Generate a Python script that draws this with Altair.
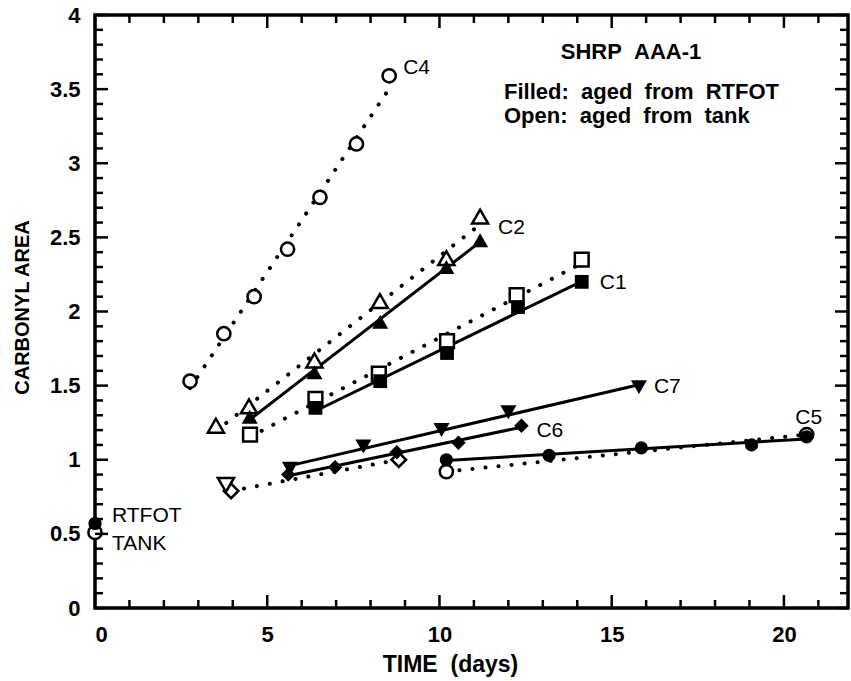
import altair as alt
import pandas as pd

# Carbonyl area vs. aging time for SHRP asphalt AAA-1, per aging condition C1..C7.
# "RTFOT" series start from RTFOT residue (filled), "tank" series from tank asphalt (open).
C1_RTFOT_T = [6.40, 8.28, 10.22, 12.28, 14.13]
C1_RTFOT_A = [1.35, 1.53, 1.72, 2.03, 2.20]
C1_TANK_T = [4.50, 6.40, 8.24, 10.22, 12.24, 14.13]
C1_TANK_A = [1.17, 1.41, 1.58, 1.80, 2.11, 2.35]

C2_RTFOT_T = [4.49, 6.37, 8.28, 10.20, 11.18]
C2_RTFOT_A = [1.29, 1.59, 1.93, 2.30, 2.48]
C2_TANK_T = [3.51, 4.47, 6.37, 8.27, 10.20, 11.18]
C2_TANK_A = [1.23, 1.36, 1.67, 2.07, 2.36, 2.64]

C4_TANK_T = [2.76, 3.74, 4.62, 5.59, 6.53, 7.59, 8.54]
C4_TANK_A = [1.53, 1.85, 2.10, 2.42, 2.77, 3.13, 3.59]

C5_RTFOT_T = [10.20, 13.18, 15.86, 19.06, 20.66]
C5_RTFOT_A = [1.00, 1.03, 1.08, 1.10, 1.155]
C5_TANK_T = [10.20, 20.66]
C5_TANK_A = [0.92, 1.17]

C6_RTFOT_T = [5.61, 6.97, 8.76, 10.55, 12.38]
C6_RTFOT_A = [0.90, 0.95, 1.05, 1.115, 1.23]
C6_TANK_T = [3.95, 8.82]
C6_TANK_A = [0.79, 1.00]

C7_RTFOT_T = [5.66, 7.79, 10.06, 12.00, 15.79]
C7_RTFOT_A = [0.94, 1.09, 1.20, 1.32, 1.49]
C7_TANK_T = [3.80]
C7_TANK_A = [0.83]

# Unaged starting materials at time zero
UNAGED_RTFOT_A = 0.57
UNAGED_TANK_A = 0.51

X_LABELS = [0, 5, 10, 15, 20]
Y_LABELS = [0, 0.5, 1, 1.5, 2, 2.5, 3, 3.5, 4]
X_TICKS = list(range(0, 22))
Y_TICKS = [round(i * 0.1, 1) for i in range(41)]

W, H = 753, 593
FONT = "Liberation Sans"

rows = []


def add(curve, source, shape, ts, vals, fit=True):
    for t, a in zip(ts, vals):
        rows.append(dict(series=f"{curve} {source}", curve=curve, source=source,
                         shape=shape, t=t, a=a, fit=fit))


add("C1", "RTFOT", "square", C1_RTFOT_T, C1_RTFOT_A)
add("C1", "tank", "square", C1_TANK_T, C1_TANK_A)
add("C2", "RTFOT", "triangle-up", C2_RTFOT_T, C2_RTFOT_A)
add("C2", "tank", "triangle-up", C2_TANK_T, C2_TANK_A)
add("C4", "tank", "circle", C4_TANK_T, C4_TANK_A)
add("C5", "RTFOT", "circle", C5_RTFOT_T, C5_RTFOT_A)
add("C5", "tank", "circle", C5_TANK_T, C5_TANK_A)
add("C6", "RTFOT", "diamond", C6_RTFOT_T, C6_RTFOT_A)
add("C6", "tank", "diamond", C6_TANK_T, C6_TANK_A)
add("C7", "RTFOT", "triangle-down", C7_RTFOT_T, C7_RTFOT_A)
add("C7", "tank", "triangle-down", C7_TANK_T, C7_TANK_A, fit=False)
add("unaged", "RTFOT", "circle", [0], [UNAGED_RTFOT_A], fit=False)
add("unaged", "tank", "circle", [0], [UNAGED_TANK_A], fit=False)

df = pd.DataFrame(rows)

x_scale = alt.Scale(domain=[0, 21.86], nice=False, zero=False)
y_scale = alt.Scale(domain=[0, 4], nice=False)

x_axis = alt.Axis(
    values=X_LABELS, ticks=False, domain=False, grid=False,
    labelFont=FONT, labelFontWeight="bold", labelFontSize=22, labelColor="black",
    labelPadding=16,
    title="TIME\u00a0\u00a0(days)", titleFont=FONT, titleFontWeight="bold",
    titleFontSize=23, titleColor="black", titleX=355, titleY=63,
    titleBaseline="alphabetic",
)
y_axis = alt.Axis(
    values=Y_LABELS, format="~g", ticks=False, domain=False, grid=False,
    labelFont=FONT, labelFontWeight="bold", labelFontSize=22, labelColor="black",
    labelPadding=15,
    title="CARBONYL AREA", titleFont=FONT, titleFontWeight="bold",
    titleFontSize=20, titleColor="black", titleX=-73, titleY=292,
    titleAngle=-90, titleBaseline="middle",
)


def enc_x(field="t"):
    return alt.X(f"{field}:Q", scale=x_scale, axis=x_axis)


def enc_y(field="a"):
    return alt.Y(f"{field}:Q", scale=y_scale, axis=y_axis)


fits = alt.Chart(df).transform_filter("datum.fit")

# Least-squares fits: dotted for tank series, solid for RTFOT series
dotted = fits.transform_filter("datum.source == 'tank'").transform_regression(
    "t", "a", groupby=["series"]
).mark_line(color="black", strokeWidth=4, strokeDash=[0.1, 13], strokeCap="round").encode(
    x=enc_x(), y=enc_y(), detail="series:N"
)
solid = fits.transform_filter("datum.source == 'RTFOT'").transform_regression(
    "t", "a", groupby=["series"]
).mark_line(color="black", strokeWidth=3).encode(x=enc_x(), y=enc_y(), detail="series:N")

# Marker area per symbol so the glyphs come out with similar visual widths
size_expr = ("datum.shape == 'circle' ? 175 : datum.shape == 'square' ? 190 : "
             "datum.shape == 'diamond' ? 210 : 260")

open_pts = alt.Chart(df).transform_filter("datum.source == 'tank'").transform_calculate(
    msize=size_expr
).mark_point(
    filled=True, fill="white", stroke="black", strokeWidth=2.5, opacity=1
).encode(
    x=enc_x(), y=enc_y(),
    shape=alt.Shape("shape:N", scale=None), size=alt.Size("msize:Q", scale=None)
)

filled_pts = alt.Chart(df).transform_filter("datum.source == 'RTFOT'").transform_calculate(
    msize=size_expr
).mark_point(filled=True, color="black", opacity=1).encode(
    x=enc_x(), y=enc_y(),
    shape=alt.Shape("shape:N", scale=None), size=alt.Size("msize:Q", scale=None)
)


# Inward frame ticks on all four sides
def x_ticks(vals, length, top):
    d = pd.DataFrame({"t": vals})
    y0 = 0 if top else H
    y1 = length if top else H - length
    return alt.Chart(d).mark_rule(color="black", strokeWidth=2.5).encode(
        x=enc_x(), y=alt.value(y0), y2=alt.value(y1)
    )


def y_ticks(vals, length, right):
    d = pd.DataFrame({"a": vals})
    x0 = W if right else 0
    x1 = W - length if right else length
    return alt.Chart(d).mark_rule(color="black", strokeWidth=2.5).encode(
        y=enc_y(), x=alt.value(x0), x2=alt.value(x1)
    )


x_major = [v for v in X_TICKS if v % 5 == 0]
x_minor = [v for v in X_TICKS if v % 5 != 0]
y_major = [v for v in Y_TICKS if round(v * 10) % 5 == 0]
y_minor = [v for v in Y_TICKS if round(v * 10) % 5 != 0]

tick_layers = []
for side in (False, True):
    tick_layers += [
        x_ticks(x_major, 13, side), x_ticks(x_minor, 8, side),
        y_ticks(y_major, 13, side), y_ticks(y_minor, 8, side),
    ]


# Curve name labels next to the last point of each curve
def last_label(text, ts, vals, dx, dy, align="left"):
    d = pd.DataFrame({"t": [ts[-1]], "a": [vals[-1]]})
    return alt.Chart(d).mark_text(
        text=text, dx=dx, dy=dy, align=align, baseline="middle",
        font=FONT, fontSize=21, color="black"
    ).encode(x=enc_x(), y=enc_y())


labels = [
    last_label("C4", C4_TANK_T, C4_TANK_A, 14, -8),
    last_label("C2", C2_RTFOT_T, C2_RTFOT_A, 18, -12),
    last_label("C1", C1_RTFOT_T, C1_RTFOT_A, 18, 1),
    last_label("C7", C7_RTFOT_T, C7_RTFOT_A, 15, 0),
    last_label("C6", C6_RTFOT_T, C6_RTFOT_A, 15, 5),
    last_label("C5", C5_RTFOT_T, C5_RTFOT_A, 2, -19, align="center"),
    last_label("RTFOT", [0], [UNAGED_RTFOT_A], 17, -7),
    last_label("TANK", [0], [UNAGED_TANK_A], 17, 12),
]

note_src = pd.DataFrame({"k": [0]})


def note(text, x, y, size, align):
    return alt.Chart(note_src).mark_text(
        text=text, align=align, baseline="middle", font=FONT, fontSize=size,
        fontWeight="bold", color="black"
    ).encode(x=alt.value(x), y=alt.value(y))


GAP = "\u00a0\u00a0"
notes = [
    note("SHRP\u00a0\u00a0AAA-1", 536, 37, 22, "center"),
    note(GAP.join(["Filled:", "aged", "from", "RTFOT"]), 409, 77, 22, "left"),
    note(GAP.join(["Open:", "aged", "from", "tank"]), 409, 101, 22, "left"),
]

chart = alt.layer(
    dotted, solid, open_pts, filled_pts, *tick_layers, *labels, *notes
).properties(
    width=W, height=H,
    autosize=alt.AutoSizeParams(type="none"),
    padding={"left": 95, "top": 15, "right": 3, "bottom": 73},
    background="white",
).configure_view(stroke="black", strokeWidth=3.5)

chart.save("out.html", embed_options={"renderer": "svg", "actions": False})
